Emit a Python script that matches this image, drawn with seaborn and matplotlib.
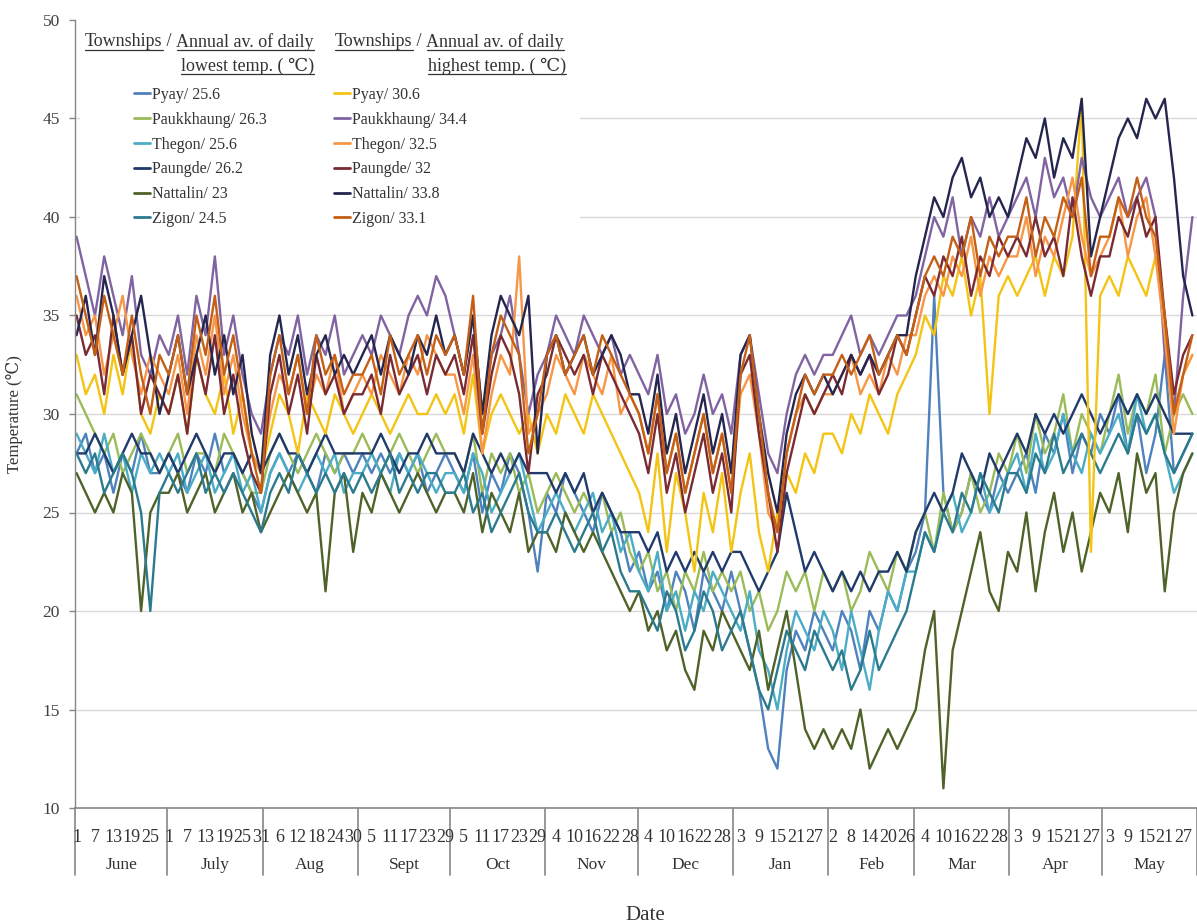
import numpy as np
import pandas as pd
import matplotlib
matplotlib.use("Agg")
import matplotlib.pyplot as plt
import matplotlib.transforms as mtransforms
from matplotlib.lines import Line2D
from matplotlib.patches import Rectangle
import seaborn as sns

sns.set_style("white")
plt.rcParams["font.family"] = ["Liberation Serif", "DejaVu Serif"]

# ---------------- data (values every 3 days, 1 June -> 31 May) ----------------
month_names = ["June", "July", "Aug", "Sept", "Oct", "Nov", "Dec",
               "Jan", "Feb", "Mar", "Apr", "May"]
sample_step = 3

low_pyay = [28, 29, 27, 28, 26, 28, 27, 29, 27, 27,
            28, 27, 26, 28, 27, 29, 27, 28, 27, 26, 25,
            27, 28, 27, 28, 27, 26, 28, 27, 28, 27,
            28, 27, 28, 27, 28, 27, 28, 26, 27, 28,
            27, 26, 28, 25, 27, 26, 28, 27, 25, 22,
            26, 25, 27, 26, 25, 24, 26, 25, 24, 22,
            23, 21, 22, 20, 22, 21, 19, 22, 21, 20, 22,
            20, 18, 16, 13, 12, 17, 19, 18, 20, 19,
            18, 20, 19, 17, 20, 19, 21, 20, 22,
            23, 25, 36, 26, 24, 25, 27, 26, 25, 27, 26,
            27, 28, 26, 29, 28, 30, 27, 29, 28, 30,
            29, 31, 28, 30, 27, 29, 33, 27, 28, 29]
low_paukkhaung = [31, 30, 29, 28, 29, 27, 28, 29, 28, 27,
                  28, 29, 27, 28, 28, 27, 29, 28, 27, 26, 26,
                  28, 29, 28, 27, 28, 29, 28, 27, 28, 28,
                  29, 28, 27, 28, 29, 28, 27, 28, 29, 28,
                  28, 27, 29, 26, 28, 27, 28, 26, 27, 25,
                  26, 27, 26, 25, 26, 25, 26, 24, 25, 23,
                  22, 23, 21, 22, 20, 22, 21, 23, 21, 22, 21,
                  22, 20, 21, 19, 20, 22, 21, 22, 20, 22,
                  21, 22, 20, 21, 23, 22, 21, 23, 22,
                  24, 25, 23, 26, 24, 25, 27, 25, 26, 28, 27,
                  29, 27, 30, 28, 29, 31, 28, 30, 29, 28,
                  30, 32, 29, 31, 30, 32, 28, 30, 31, 30]
low_thegon = [29, 28, 27, 29, 27, 28, 26, 28, 27, 28,
              27, 28, 26, 27, 28, 26, 27, 28, 26, 27, 25,
              27, 28, 27, 26, 27, 28, 27, 28, 26, 27,
              27, 28, 27, 26, 28, 27, 28, 27, 26, 27,
              27, 26, 28, 27, 25, 26, 27, 28, 26, 24,
              25, 26, 25, 24, 25, 26, 24, 25, 23, 24,
              22, 21, 23, 20, 21, 19, 21, 20, 22, 21, 20,
              19, 21, 18, 17, 15, 18, 20, 19, 18, 20,
              19, 17, 20, 18, 16, 19, 21, 20, 22,
              22, 24, 23, 25, 26, 24, 25, 27, 25, 26, 27,
              28, 26, 29, 27, 28, 30, 28, 27, 29, 28,
              29, 30, 28, 31, 29, 30, 28, 26, 27, 28]
low_paungde = [28, 28, 29, 28, 27, 28, 29, 28, 28, 27,
               28, 27, 28, 29, 28, 27, 28, 28, 27, 28, 27,
               28, 29, 28, 28, 27, 28, 29, 28, 28, 28,
               28, 28, 29, 28, 27, 28, 28, 29, 28, 28,
               28, 27, 29, 28, 27, 28, 27, 28, 27, 27,
               27, 26, 27, 26, 27, 25, 26, 25, 24, 24,
               24, 23, 24, 22, 23, 22, 23, 22, 23, 22, 23,
               23, 22, 21, 22, 23, 26, 24, 22, 23, 22,
               21, 22, 21, 22, 21, 22, 22, 23, 22,
               24, 25, 26, 25, 26, 28, 27, 26, 28, 27, 28,
               29, 28, 30, 29, 30, 29, 30, 31, 30, 29,
               30, 31, 30, 31, 30, 31, 30, 29, 29, 29]
low_nattalin = [27, 26, 25, 26, 25, 27, 26, 20, 25, 26,
                26, 27, 25, 26, 27, 25, 26, 27, 25, 26, 24,
                25, 26, 27, 26, 25, 26, 21, 26, 27, 23,
                26, 25, 27, 26, 25, 26, 27, 26, 25, 26,
                26, 25, 27, 24, 26, 25, 24, 26, 23, 24,
                24, 23, 25, 24, 23, 24, 23, 22, 21, 20,
                21, 19, 20, 18, 19, 17, 16, 19, 18, 20, 19,
                18, 17, 19, 16, 18, 20, 17, 14, 13, 14,
                13, 14, 13, 15, 12, 13, 14, 13, 14,
                15, 18, 20, 11, 18, 20, 22, 24, 21, 20, 23,
                22, 25, 21, 24, 26, 23, 25, 22, 24, 26,
                25, 27, 24, 28, 26, 27, 21, 25, 27, 28]
low_zigon = [28, 27, 28, 26, 27, 28, 27, 25, 20, 26,
             27, 26, 27, 28, 26, 27, 26, 27, 26, 25, 24,
             26, 27, 26, 28, 27, 26, 27, 26, 27, 26,
             27, 26, 27, 28, 26, 27, 26, 27, 27, 26,
             26, 27, 25, 26, 24, 25, 26, 27, 25, 24,
             24, 25, 24, 23, 24, 25, 23, 24, 22, 21,
             21, 20, 19, 21, 20, 18, 19, 21, 20, 18, 19,
             20, 18, 16, 15, 17, 19, 18, 17, 19, 18,
             17, 18, 16, 17, 19, 17, 18, 19, 20,
             22, 24, 23, 25, 24, 26, 25, 27, 26, 25, 27,
             27, 26, 28, 27, 29, 27, 28, 29, 28, 27,
             28, 29, 28, 30, 29, 30, 28, 27, 28, 29]

high_pyay = [33, 31, 32, 30, 33, 31, 34, 30, 29, 31,
             30, 32, 29, 33, 31, 30, 32, 29, 31, 28, 27,
             29, 31, 30, 28, 31, 30, 29, 31, 30, 29,
             30, 31, 30, 29, 30, 31, 30, 30, 31, 30,
             31, 29, 32, 28, 30, 31, 30, 29, 30, 28,
             30, 29, 31, 30, 29, 31, 30, 29, 28, 27,
             26, 24, 28, 23, 27, 25, 22, 26, 24, 27, 23,
             26, 28, 24, 22, 25, 27, 26, 28, 27, 29,
             29, 28, 30, 29, 31, 30, 29, 31, 32,
             33, 35, 34, 37, 36, 38, 35, 37, 30, 36, 37,
             36, 37, 38, 36, 38, 37, 39, 46, 23, 36,
             37, 36, 38, 37, 36, 38, 35, 30, 32, 33]
high_paukkhaung = [39, 37, 35, 38, 36, 34, 37, 33, 32, 34,
                   33, 35, 32, 36, 34, 38, 33, 35, 32, 30, 29,
                   32, 34, 33, 35, 32, 34, 33, 35, 32, 33,
                   34, 33, 35, 34, 33, 35, 36, 35, 37, 36,
                   34, 32, 35, 30, 33, 34, 36, 33, 30, 32,
                   33, 35, 34, 33, 35, 34, 33, 34, 32, 33,
                   32, 31, 33, 30, 31, 29, 30, 32, 30, 31, 29,
                   33, 34, 31, 28, 27, 30, 32, 33, 32, 33,
                   33, 34, 35, 33, 34, 33, 34, 35, 35,
                   36, 38, 40, 39, 41, 38, 40, 39, 41, 39, 40,
                   41, 42, 40, 43, 41, 42, 40, 43, 41, 40,
                   41, 42, 40, 41, 42, 40, 33, 30, 36, 40]
high_thegon = [36, 34, 35, 32, 34, 36, 33, 31, 33, 32,
               31, 33, 30, 34, 32, 35, 31, 33, 30, 28, 27,
               30, 32, 31, 33, 30, 32, 31, 33, 30, 31,
               32, 31, 33, 32, 31, 33, 32, 34, 33, 32,
               32, 30, 33, 28, 31, 33, 32, 38, 29, 30,
               31, 33, 32, 31, 33, 32, 31, 33, 30, 31,
               30, 28, 31, 27, 29, 26, 28, 30, 27, 29, 26,
               31, 32, 29, 25, 24, 28, 30, 31, 30, 31,
               31, 32, 33, 31, 32, 31, 33, 32, 34,
               34, 36, 37, 36, 38, 37, 39, 36, 38, 37, 38,
               38, 40, 37, 39, 38, 40, 42, 39, 37, 38,
               39, 41, 38, 40, 41, 38, 34, 29, 32, 33]
high_paungde = [35, 33, 34, 31, 35, 32, 34, 30, 32, 31,
                30, 32, 29, 33, 31, 34, 30, 32, 29, 27, 26,
                31, 33, 30, 32, 29, 33, 31, 32, 30, 31,
                31, 32, 30, 33, 31, 32, 33, 31, 33, 32,
                33, 31, 34, 29, 32, 34, 33, 31, 27, 31,
                32, 34, 33, 32, 33, 31, 33, 32, 31, 30,
                29, 27, 30, 26, 28, 25, 27, 29, 26, 28, 25,
                32, 33, 29, 26, 23, 27, 29, 31, 30, 31,
                32, 31, 33, 32, 33, 31, 32, 34, 33,
                35, 37, 36, 38, 37, 39, 36, 38, 37, 39, 38,
                39, 38, 40, 38, 39, 37, 41, 38, 36, 38,
                38, 40, 39, 41, 39, 40, 35, 31, 33, 34]
high_nattalin = [34, 36, 33, 37, 35, 32, 34, 36, 33, 30,
                 32, 34, 31, 33, 35, 32, 34, 31, 33, 29, 27,
                 33, 35, 32, 34, 31, 33, 34, 32, 33, 32,
                 33, 34, 32, 34, 33, 32, 34, 33, 35, 33,
                 34, 32, 35, 30, 34, 36, 35, 34, 36, 28,
                 33, 34, 32, 33, 34, 32, 33, 34, 33, 31,
                 31, 29, 32, 28, 30, 27, 29, 31, 28, 30, 27,
                 33, 34, 30, 27, 25, 29, 31, 32, 31, 32,
                 31, 32, 33, 32, 33, 32, 33, 34, 34,
                 37, 39, 41, 40, 42, 43, 41, 42, 40, 41, 40,
                 42, 44, 43, 45, 42, 44, 43, 46, 38, 40,
                 42, 44, 45, 44, 46, 45, 46, 42, 37, 35]
high_zigon = [37, 35, 33, 36, 34, 32, 35, 32, 30, 33,
              32, 34, 31, 35, 33, 36, 32, 34, 31, 28, 26,
              32, 34, 31, 33, 30, 34, 32, 33, 31, 32,
              32, 33, 31, 34, 32, 33, 34, 32, 34, 33,
              34, 32, 36, 29, 33, 35, 34, 33, 28, 30,
              33, 34, 32, 33, 34, 32, 34, 33, 32, 31,
              30, 28, 31, 27, 29, 26, 28, 30, 27, 29, 26,
              32, 34, 30, 26, 24, 28, 30, 32, 31, 32,
              32, 33, 32, 33, 34, 32, 33, 34, 33,
              35, 37, 38, 37, 39, 38, 40, 37, 39, 38, 39,
              39, 41, 38, 40, 39, 41, 40, 42, 37, 39,
              39, 41, 40, 42, 40, 39, 35, 30, 32, 34]

low_labels = ["Pyay/ 25.6", "Paukkhaung/ 26.3", "Thegon/ 25.6",
              "Paungde/ 26.2", "Nattalin/ 23", "Zigon/ 24.5"]
high_labels = ["Pyay/ 30.6", "Paukkhaung/ 34.4", "Thegon/ 32.5",
               "Paungde/ 32", "Nattalin/ 33.8", "Zigon/ 33.1"]
low_series = [low_pyay, low_paukkhaung, low_thegon, low_paungde, low_nattalin, low_zigon]
high_series = [high_pyay, high_paukkhaung, high_thegon, high_paungde, high_nattalin, high_zigon]

low_colors = ["#4F81BD", "#9BBB59", "#4BACC6", "#1F3A6B", "#4F6228", "#2B7A8E"]
high_colors = ["#F3C414", "#8064A2", "#F79646", "#7A2A33", "#25264F", "#C45F16"]

# ---------------- build long table ----------------
dates = pd.date_range("2014-06-01", "2015-05-31", freq="D")
n_days = len(dates)
sample_days = np.arange(0, n_days, sample_step)
rows = []
keys = []
for lab, vals in zip(low_labels, low_series):
    assert len(vals) == len(sample_days), (lab, len(vals))
    key = "low " + lab
    keys.append(key)
    rows.append(pd.DataFrame({"day": sample_days, "temp": vals, "series": key}))
for lab, vals in zip(high_labels, high_series):
    assert len(vals) == len(sample_days), (lab, len(vals))
    key = "high " + lab
    keys.append(key)
    rows.append(pd.DataFrame({"day": sample_days, "temp": vals, "series": key}))
df = pd.concat(rows, ignore_index=True)
palette = dict(zip(keys, low_colors + high_colors))

# ---------------- figure ----------------
W, H = 1197, 924
fig = plt.figure(figsize=(W / 100, H / 100), dpi=100)
ax = fig.add_axes([75 / W, 1 - 808 / H, (W - 75) / W, (808 - 20) / H])

for yv in range(15, 50, 5):
    ax.axhline(yv, color="#D9D9D9", lw=1.0, zorder=0)

sns.lineplot(data=df, x="day", y="temp", hue="series", hue_order=keys,
             palette=palette, linewidth=1.7, legend=False, ax=ax,
             estimator=None, sort=False)

ax.set_xlim(-0.5, n_days - 0.5)
ax.set_ylim(10, 50)
ax.set_yticks(range(10, 51, 5))
ax.tick_params(axis="y", labelsize=12.5, labelcolor="#404040", color="#868686",
               length=4, width=1, pad=7, left=True)
ax.set_xticks([])
ax.set_xlabel("")
ax.set_ylabel("Temperature (\u2103)", fontsize=12, color="#333333")
ax.yaxis.set_label_coords(-0.046, 0.5)
for s in ["top", "right"]:
    ax.spines[s].set_visible(False)
ax.spines["left"].set_color("#868686")
ax.spines["bottom"].set_color("#868686")
ax.spines["left"].set_linewidth(1.0)
ax.spines["bottom"].set_linewidth(1.2)

# multi-level category axis: day numbers + months
trans = mtransforms.blended_transform_factory(ax.transData, ax.transAxes)
for idx in range(0, n_days, 6):
    ax.text(idx, -0.037, str(dates[idx].day), transform=trans, ha="center",
            va="center", fontsize=13, color="#333333", clip_on=False)
month_starts = [i for i, d in enumerate(dates) if d.day == 1]
bounds = month_starts + [n_days]
for i, name in enumerate(month_names):
    c = (bounds[i] + bounds[i + 1] - 1) / 2
    ax.text(c, -0.072, name, transform=trans, ha="center", va="center",
            fontsize=12.5, color="#333333", clip_on=False)
for b in bounds:
    ax.plot([b - 0.5, b - 0.5], [0, -0.085], transform=trans, color="#868686",
            lw=1.2, clip_on=False)
ax.text(0.508, -0.137, "Date", transform=ax.transAxes, ha="center", va="center",
        fontsize=15, color="#333333")

# ---------------- legend block ----------------
fig.add_artist(Rectangle((80 / W, 1 - 242 / H), 500 / W, 220 / H,
                         transform=fig.transFigure, facecolor="white",
                         edgecolor="none", zorder=1))

low_handles = [Line2D([], [], color=c, lw=2) for c in low_colors]
high_handles = [Line2D([], [], color=c, lw=2) for c in high_colors]
leg_kw = dict(loc="upper left", bbox_transform=fig.transFigure, frameon=False,
              borderpad=0, borderaxespad=0, handlelength=1.0, handletextpad=0.1,
              labelspacing=0.55, fontsize=11.5, labelcolor="#333333")
fig.legend(low_handles, low_labels, bbox_to_anchor=(134 / W, 1 - 87 / H), **leg_kw)
fig.legend(high_handles, high_labels, bbox_to_anchor=(334 / W, 1 - 87 / H), **leg_kw)

fig.canvas.draw()
renderer = fig.canvas.get_renderer()


def put(x_px, y_px, s, underline, ha="left"):
    t = fig.text(x_px / W, 1 - y_px / H, s, ha=ha, va="center", fontsize=13,
                 color="#333333", zorder=3)
    bb = t.get_window_extent(renderer)
    if underline:
        yl = bb.y0 + 1
        fig.add_artist(Line2D([bb.x0 / W, bb.x1 / W], [yl / H, yl / H],
                              transform=fig.transFigure, color="#333333",
                              lw=0.9, zorder=3))
    return bb


for x0, word in [(85, "lowest"), (335, "highest")]:
    b1 = put(x0, 42, "Townships", True)
    b2 = put(b1.x1, 42, " / ", False)
    b3 = put(b2.x1, 42, "Annual av. of daily", True)
    put((b3.x0 + b3.x1) / 2 + 2, 66, word + " temp. ( \u2103)", True, ha="center")

fig.savefig("out.png", dpi=100)
